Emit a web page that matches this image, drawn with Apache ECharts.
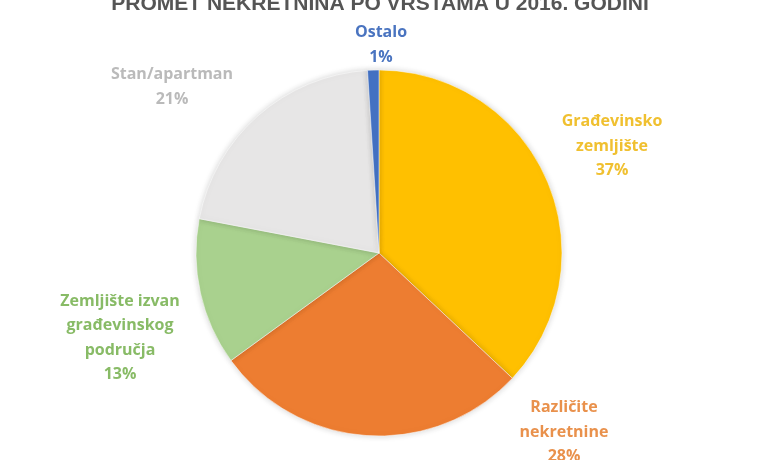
<!DOCTYPE html>
<html lang="hr">
<head>
    <meta charset="UTF-8">
    <title>Promet nekretnina</title>
    <style>
        html,body{
            padding: 0;
            margin: 0;
            width: 100%;
            height: 100%;
            background: #fff;
        }
        .chart{
            width: 760px;
            height: 460px;
        }
    </style>
    <script src="https://cdn.jsdelivr.net/npm/echarts@6/dist/echarts.min.js"></script>
</head>
<body>
<div class="chart"></div>
<script>
    // data, clockwise from 12 o'clock
    let categories = ['Građevinsko\nzemljište', 'Različite\nnekretnine', 'Zemljište izvan\ngrađevinskog\npodručja', 'Stan/apartman', 'Ostalo'];
    let values = [37, 28, 13, 21, 1];

    let sliceColors = ['#FFC000', '#ED7D31', '#A9D18E', '#E7E6E6', '#4472C4'];
    let labelColors = ['#F0C030', '#E9914C', '#88BB66', '#BABABA', '#4A74C0'];
    // label block centres
    let labelPos = [[612, 146], [564, 432], [120, 338], [172, 87], [381, 45]];

    let chart = echarts.init(document.querySelector('.chart'));

    let pieData = categories.map((name, i) => ({
        name: name,
        value: values[i],
        itemStyle: {color: sliceColors[i]},
        label: {color: labelColors[i]}
    }));

    let option = {
        backgroundColor: '#fff',
        title: {
            text: 'PROMET NEKRETNINA PO VRSTAMA U 2016. GODINI',
            left: 'center',
            top: -11,
            textStyle: {
                fontFamily: 'Liberation Sans Narrow, Liberation Sans, sans-serif',
                fontSize: 21,
                fontWeight: 'bold',
                color: '#555'
            }
        },
        series: [{
            type: 'pie',
            center: [379, 253],
            radius: [0, 183],
            startAngle: 90,
            clockwise: true,
            animation: false,
            data: pieData,
            itemStyle: {
                borderColor: '#fff',
                borderWidth: 0.5,
                shadowBlur: 6,
                shadowColor: 'rgba(0,0,0,0.18)'
            },
            label: {
                show: true,
                position: 'outside',
                formatter: p => p.name + '\n' + p.value + '%',
                fontFamily: 'Open Sans, sans-serif',
                fontSize: 16,
                fontWeight: 'bold',
                lineHeight: 24.5,
                align: 'center'
            },
            labelLine: {show: false},
            labelLayout: function (params) {
                let pos = labelPos[params.dataIndex];
                return {
                    x: pos[0],
                    y: pos[1],
                    align: 'center',
                    verticalAlign: 'middle'
                };
            },
            emphasis: {disabled: true}
        }]
    };

    chart.setOption(option);
</script>
</body>
</html>
